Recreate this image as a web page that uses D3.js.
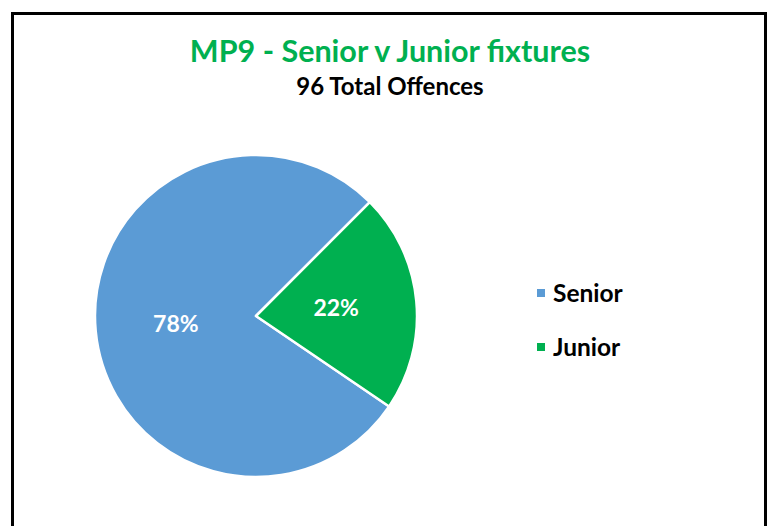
<!DOCTYPE html>
<html>
<head>
<meta charset="utf-8">
<script src="https://cdn.jsdelivr.net/npm/d3@7"></script>
<style>
  body { margin: 0; background: #fff; }
  svg { display: block; font-family: Lato, "Open Sans", sans-serif; }
</style>
</head>
<body>
<svg width="771" height="526"></svg>
<script>
// chart data
const categories = ["Senior", "Junior"];
const values = [78, 22];
const colours = ["#5B9BD5", "#00B050"];
const title = "MP9 - Senior v Junior fixtures";
const subtitle = "96 Total Offences";

let svg = d3.select("svg");

// outer frame
svg.append("rect")
  .attr("x", 12.5)
  .attr("y", 13.5)
  .attr("width", 753)
  .attr("height", 540)
  .attr("fill", "#fff")
  .attr("stroke", "#000")
  .attr("stroke-width", 3);

svg.append("text")
  .attr("x", 390)
  .attr("y", 62)
  .attr("text-anchor", "middle")
  .attr("font-size", 30.5)
  .attr("font-weight", "bold")
  .attr("fill", "#00B050")
  .text(title);

svg.append("text")
  .attr("x", 390)
  .attr("y", 95)
  .attr("text-anchor", "middle")
  .attr("font-size", 24)
  .attr("font-weight", "bold")
  .attr("fill", "#000")
  .text(subtitle);

let color = d3.scaleOrdinal().domain(categories).range(colours);
let radius = 161;

// Senior starts where Junior ends so that Junior sits on the right
let pie = d3.pie()
  .sort(null)
  .value(d => d.value)
  .startAngle(124.2 * Math.PI / 180)
  .endAngle(124.2 * Math.PI / 180 + 2 * Math.PI);

let data = categories.map((c, i) => ({ name: c, value: values[i] }));
let arcs = pie(data);

let arc = d3.arc().innerRadius(0).outerRadius(radius);
let labelArc = d3.arc().innerRadius(radius * 0.5).outerRadius(radius * 0.5);

let g = svg.append("g").attr("transform", "translate(256,316)");

g.selectAll("path")
  .data(arcs)
  .enter().append("path")
    .attr("d", arc)
    .attr("fill", d => color(d.data.name))
    .attr("stroke", "#fff")
    .attr("stroke-width", 2.5)
    .attr("stroke-linejoin", "round");

let total = d3.sum(values);
g.selectAll("text")
  .data(arcs)
  .enter().append("text")
    .attr("transform", d => "translate(" + labelArc.centroid(d) + ")")
    .attr("text-anchor", "middle")
    .attr("dy", "0.35em")
    .attr("font-size", 23)
    .attr("font-weight", "bold")
    .attr("fill", "#fff")
    .text(d => Math.round(d.data.value / total * 100) + "%");

// legend
let legend = svg.append("g").attr("transform", "translate(537,293)");
let item = legend.selectAll("g")
  .data(categories)
  .enter().append("g")
    .attr("transform", (d, i) => "translate(0," + i * 54 + ")");

item.append("rect")
  .attr("x", 0)
  .attr("y", -4)
  .attr("width", 8)
  .attr("height", 8)
  .attr("fill", d => color(d));

item.append("text")
  .attr("x", 16)
  .attr("dy", "0.35em")
  .attr("font-size", 24.5)
  .attr("font-weight", "bold")
  .attr("fill", "#000")
  .text(d => d);
</script>
</body>
</html>
